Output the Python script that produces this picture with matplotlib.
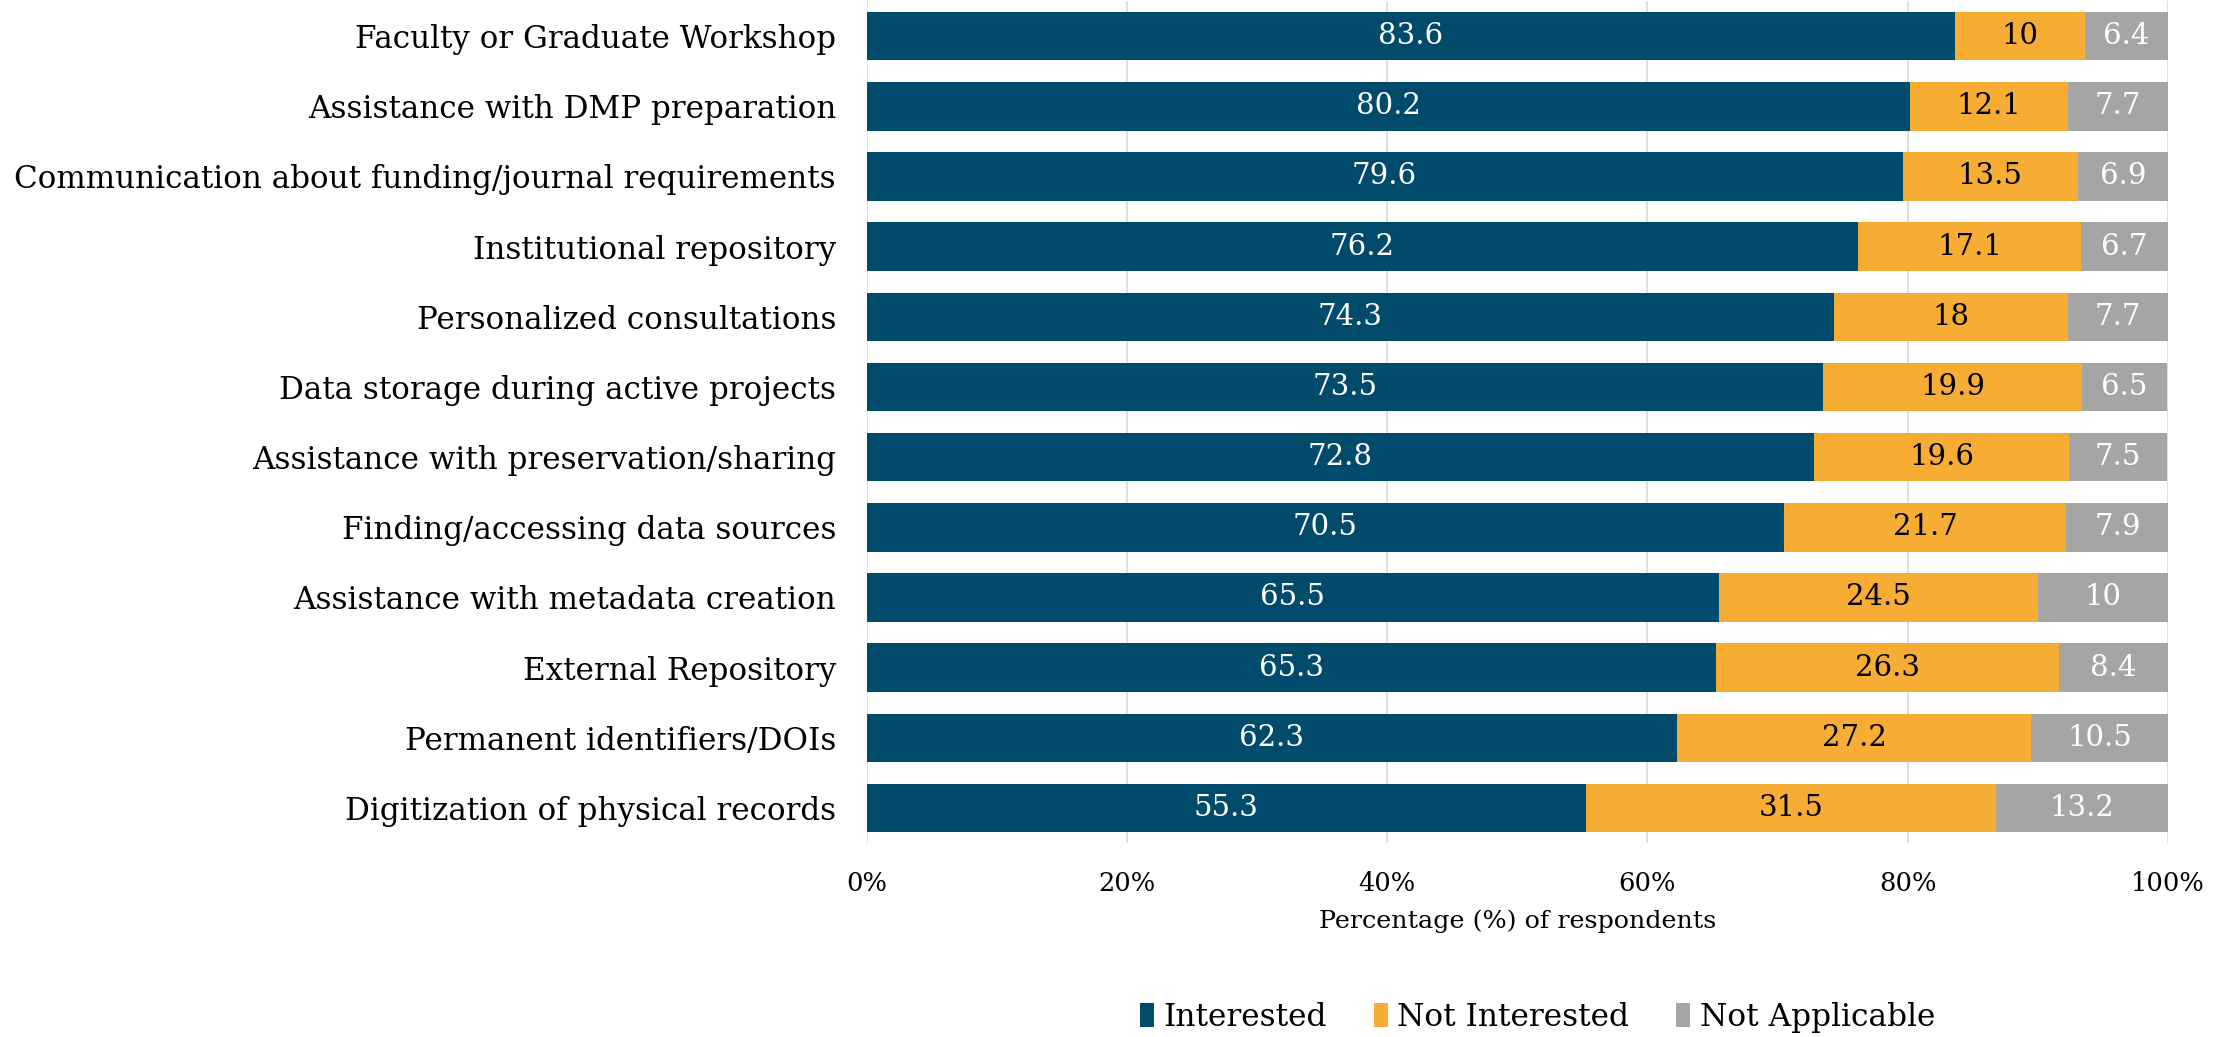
import numpy as np
import matplotlib
matplotlib.use("Agg")
import matplotlib.pyplot as plt
from matplotlib.patches import Patch

# Survey data (percent of respondents), top to bottom as shown
categories = [
    "Faculty or Graduate Workshop",
    "Assistance with DMP preparation",
    "Communication about funding/journal requirements",
    "Institutional repository",
    "Personalized consultations",
    "Data storage during active projects",
    "Assistance with preservation/sharing",
    "Finding/accessing data sources",
    "Assistance with metadata creation",
    "External Repository",
    "Permanent identifiers/DOIs",
    "Digitization of physical records",
]
interested = [83.6, 80.2, 79.6, 76.2, 74.3, 73.5, 72.8, 70.5, 65.5, 65.3, 62.3, 55.3]
not_interested = [10, 12.1, 13.5, 17.1, 18, 19.9, 19.6, 21.7, 24.5, 26.3, 27.2, 31.5]
not_applicable = [6.4, 7.7, 6.9, 6.7, 7.7, 6.5, 7.5, 7.9, 10, 8.4, 10.5, 13.2]
series_names = ["Interested", "Not Interested", "Not Applicable"]

colors = ["#004B6B", "#F7AC34", "#A5A5A5"]
text_colors = ["white", "black", "white"]

plt.rcParams["font.family"] = ["DejaVu Serif"]

fig = plt.figure(figsize=(22.22, 10.37), dpi=100)
ax = fig.add_axes([0.39, 0.187, 0.5857, 0.812])

y = np.arange(len(categories))[::-1]
left = np.zeros(len(categories))
for vals, col, tcol in zip([interested, not_interested, not_applicable], colors, text_colors):
    vals = np.array(vals, dtype=float)
    ax.barh(y, vals, left=left, height=0.69, color=col, edgecolor="none", zorder=2)
    for yi, l, v in zip(y, left, vals):
        label = f"{v:g}"
        ax.text(l + v / 2, yi, label, ha="center", va="center",
                color=tcol, fontsize=21, zorder=3)
    left += vals

ax.set_xlim(0, 100)
ax.set_ylim(-0.5, len(categories) - 0.5)
ax.set_yticks(y)
ax.set_yticklabels(categories, fontsize=22.3)
ax.set_xticks(np.arange(0, 101, 20))
ax.set_xticklabels([f"{t}%" for t in range(0, 101, 20)], fontsize=18.5)
ax.tick_params(axis="both", length=0)
ax.tick_params(axis="x", pad=20)
ax.tick_params(axis="y", pad=22)
ax.grid(axis="x", color="#D9D9D9", linewidth=1.2, zorder=0)
for s in ax.spines.values():
    s.set_visible(False)
ax.set_xlabel("Percentage (%) of respondents", fontsize=18.3, labelpad=10)

handles = [Patch(facecolor=c, edgecolor="none") for c in colors]
fig.legend(handles, series_names, loc="center", bbox_to_anchor=(0.692, 0.019),
           ncol=3, frameon=False, fontsize=22.5, handlelength=0.45, handleheight=0.85,
           handletextpad=0.3, columnspacing=1.5)

fig.savefig("out.png", dpi=100)
